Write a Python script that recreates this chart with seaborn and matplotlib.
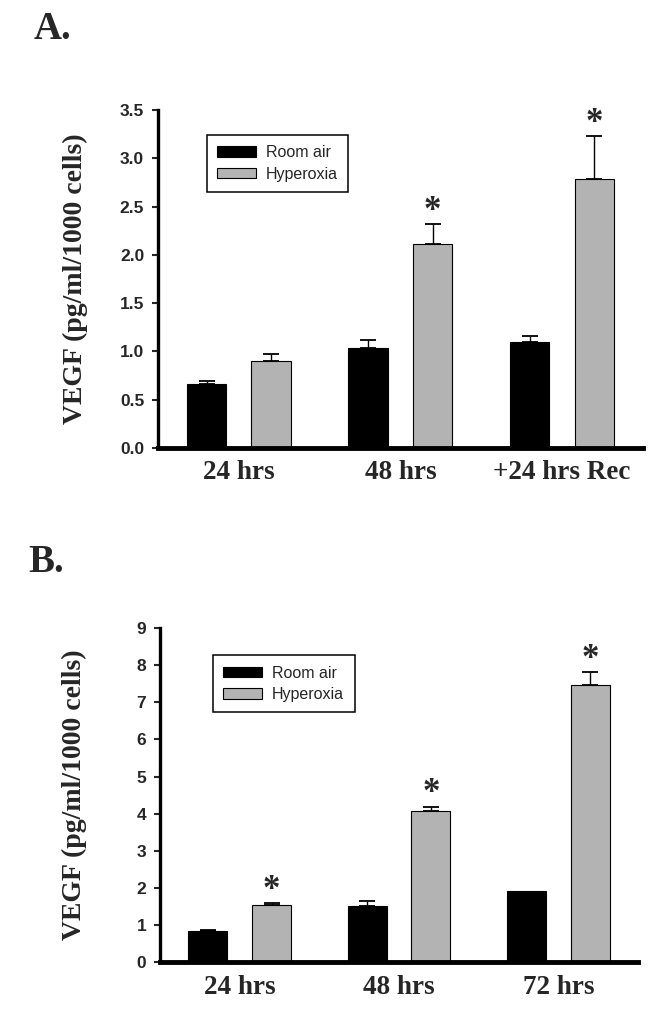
import matplotlib
matplotlib.use('Agg')
import matplotlib.pyplot as plt
import numpy as np
import pandas as pd
import seaborn as sns

sns.set_style("ticks")

# panel A
groups_a = ['24 hrs', '48 hrs', '+24 hrs Rec']
room_a = [0.66, 1.03, 1.10]
room_a_err = [0.035, 0.085, 0.055]
hyper_a = [0.90, 2.11, 2.79]
hyper_a_err = [0.07, 0.21, 0.44]
star_a = [False, True, True]

# panel B
groups_b = ['24 hrs', '48 hrs', '72 hrs']
room_b = [0.84, 1.50, 1.92]
room_b_err = [0.03, 0.15, 0.0]
hyper_b = [1.54, 4.08, 7.46]
hyper_b_err = [0.04, 0.11, 0.35]
star_b = [True, True, True]

conds = ['Room air', 'Hyperoxia']
colors = ['black', '#b3b3b3']
y_label = 'VEGF (pg/ml/1000 cells)'

serif = 'Liberation Serif'
sans = 'Liberation Sans'


def panel(ax, groups, room, room_err, hyper, hyper_err, stars, ymax, yticks, fmt, leg_xy):
    df = pd.DataFrame({'time': groups * 2,
                       'vegf': room + hyper,
                       'cond': [conds[0]] * len(groups) + [conds[1]] * len(groups)})
    sns.barplot(data=df, x='time', y='vegf', hue='cond', hue_order=conds,
                palette=colors, width=0.8, gap=0.39, errorbar=None,
                edgecolor='black', linewidth=0.8, ax=ax)
    for cont, errs in zip(ax.containers, [room_err, hyper_err]):
        for bar, e in zip(cont, errs):
            if e <= 0:
                continue
            xc = bar.get_x() + bar.get_width() / 2
            top = bar.get_height()
            ax.errorbar(xc, top, yerr=[[0], [e]], fmt='none', ecolor='black',
                        elinewidth=1.0, capsize=5.5, capthick=1.3, zorder=3)
    # significance marks over hyperoxia bars
    for bar, e, s in zip(ax.containers[1], hyper_err, stars):
        if s:
            xc = bar.get_x() + bar.get_width() / 2
            ax.annotate('*', (xc, bar.get_height() + e), xytext=(0, 3),
                        textcoords='offset points', ha='center', va='baseline',
                        fontsize=25, fontweight='bold', family=serif)

    ax.set_xlim(-0.5, 2.5)
    ax.set_ylim(0, ymax)
    ax.set_yticks(yticks)
    ax.set_yticklabels([fmt.format(v) for v in yticks], fontsize=12.5,
                       fontweight='bold', family=sans)
    ax.set_xticks(range(len(groups)))
    ax.set_xticklabels(groups, fontsize=19.5, fontweight='bold', family=serif)
    ax.tick_params(axis='x', length=0, pad=9)
    ax.tick_params(axis='y', length=4, width=1.5, pad=6, direction='out')
    ax.set_xlabel('')
    ax.set_ylabel(y_label, fontsize=20, fontweight='bold', family=serif)
    sns.despine(ax=ax)
    ax.spines['left'].set_linewidth(2.4)
    ax.spines['bottom'].set_linewidth(3.5)
    ax.spines['left'].set_color('black')
    ax.spines['bottom'].set_color('black')

    handles, labels = ax.get_legend_handles_labels()
    leg = ax.legend(handles, labels, loc='upper left', bbox_to_anchor=leg_xy,
                    borderaxespad=0, fancybox=False, framealpha=1,
                    edgecolor='black', handlelength=2.4, handleheight=0.65,
                    handletextpad=0.65, labelspacing=0.4, borderpad=0.65,
                    prop={'family': sans, 'size': 11.5})
    leg.get_frame().set_linewidth(1.1)


fig = plt.figure(figsize=(6.64, 10.18), dpi=100)
ax_a = fig.add_axes([0.238, 0.560, 0.730, 0.332])
ax_b = fig.add_axes([0.241, 0.055, 0.720, 0.328])

panel(ax_a, groups_a, room_a, room_a_err, hyper_a, hyper_a_err, star_a,
      3.5, np.arange(0, 3.51, 0.5), '{:.1f}', (0.101, 0.926))
panel(ax_b, groups_b, room_b, room_b_err, hyper_b, hyper_b_err, star_b,
      9, list(range(0, 10)), '{:d}', (0.111, 0.919))

ax_a.yaxis.set_label_coords(-0.145, 0.5)
ax_b.yaxis.set_label_coords(-0.152, 0.5)

fig.text(0.05, 0.9617, 'A.', fontsize=28, fontweight='bold', family=serif)
fig.text(0.042, 0.438, 'B.', fontsize=28, fontweight='bold', family=serif)

fig.savefig('out.png', dpi=100)
